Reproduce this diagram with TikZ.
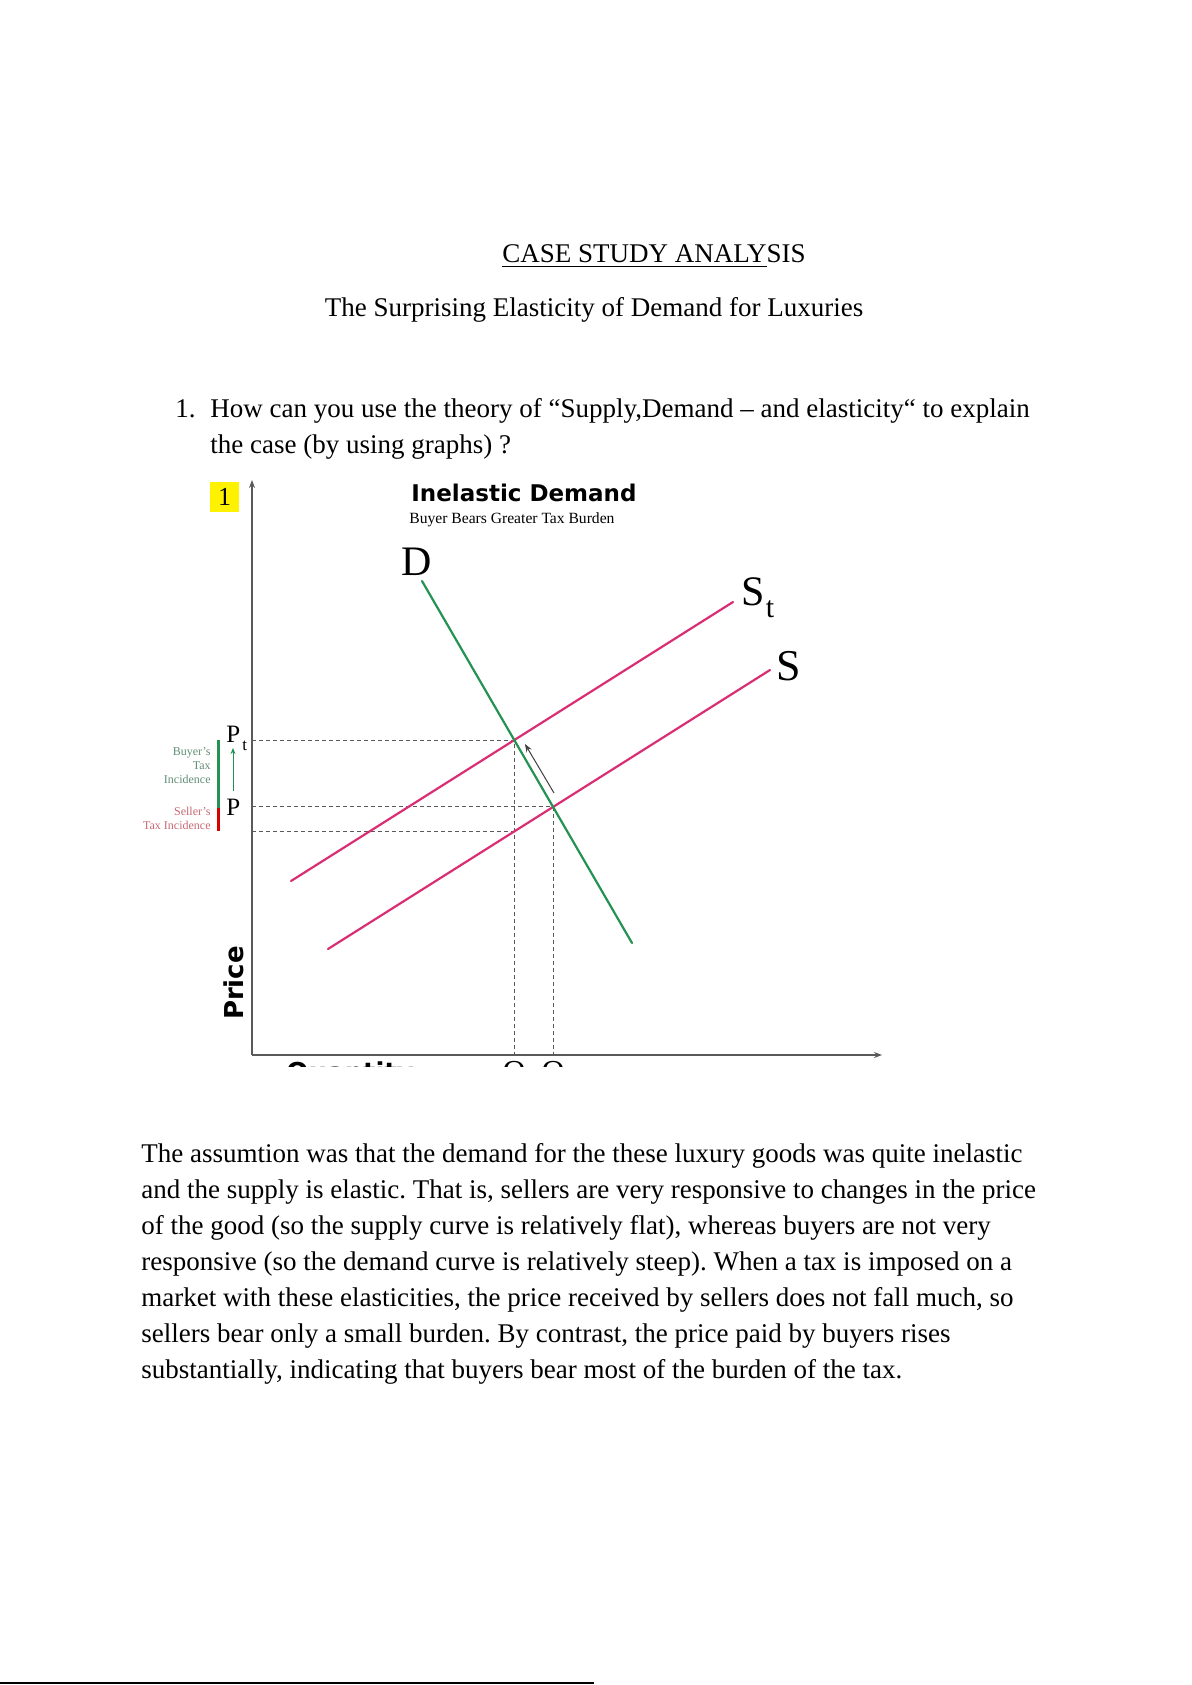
\documentclass[tikz,border=0pt]{standalone}
\usepackage{fontspec}
\setmainfont{Liberation Serif}
\newfontfamily\dejavu{DejaVu Sans}
\usepackage{tikz}
\usepackage{tkz-euclide}
\usetikzlibrary{arrows.meta}
\frenchspacing

\definecolor{hongcung}{RGB}{218,46,116}
\definecolor{xanhcau}{RGB}{36,146,82}
\definecolor{xamtruc}{RGB}{90,90,90}
\definecolor{chubuyer}{RGB}{96,142,116}
\definecolor{chuseller}{RGB}{200,104,116}

\begin{document}
\begin{tikzpicture}[x=0.5pt, y=-0.5pt]
    \useasboundingbox (0,0) rectangle (1191,1685);

    % Styling cho đồ thị cung - cầu
    \tikzset{
        c_supply/.style={color=hongcung, line width=1.1pt, line cap=round},
        c_demand/.style={color=xanhcau, line width=1.1pt, line cap=round},
        c_guide/.style={color=xamtruc, line width=0.5pt, dash pattern=on 2pt off 1.5pt},
        c_axis/.style={color=xamtruc, line width=0.65pt, -{Stealth[length=4pt, width=3pt]}},
        c_text/.style={inner sep=0pt, anchor=base west, font=\fontsize{13.5}{16}\selectfont},
        c_buyer/.style={inner sep=0pt, anchor=base east, text=chubuyer, font=\fontsize{6}{7}\selectfont},
        c_seller/.style={inner sep=0pt, anchor=base east, text=chuseller, font=\fontsize{6}{7}\selectfont},
        c_curve/.style={inner sep=0pt, font=\fontsize{21}{23}\selectfont}
    }

    % Tiêu đề
    \node[c_text] (tieude) at (502,263) {\underline{CASE STUDY ANALY}SIS};
    \node[c_text, anchor=base] (tieude2) at (594,316) {The Surprising Elasticity of Demand for Luxuries};

    % Câu hỏi 1
    \node[c_text] (so1) at (175,417) {1.};
    \node[c_text] (cauhoi1) at (210,417) {How can you use the theory of “Supply,Demand – and elasticity“ to explain};
    \node[c_text] (cauhoi2) at (210,453) {the case (by using graphs) ?};

    % Định nghĩa các điểm của đồ thị
    \tkzDefPoint(252,1055){O}
    \tkzDefPoint(252,480){Y}
    \tkzDefPoint(882,1055){X}
    \tkzDefPoint(422,581){D1}
    \tkzDefPoint(632,943){D2}
    \tkzDefPoint(291,881){T1}
    \tkzDefPoint(733,602){T2}
    \tkzDefPoint(328,949){S1}
    \tkzDefPoint(770,670){S2}

    % Giao điểm cân bằng và hình chiếu lên hai trục
    \coordinate (Et) at (intersection of D1--D2 and T1--T2);
    \coordinate (E) at (intersection of D1--D2 and S1--S2);
    \coordinate (Pt) at (Et -| O);
    \coordinate (P) at (E -| O);
    \coordinate (Qt) at (Et |- O);
    \coordinate (Q) at (E |- O);
    \coordinate (F) at (intersection of Et--Qt and S1--S2);
    \coordinate (Ps) at (F -| O);

    % Đường gióng nét đứt
    \draw[c_guide] (Pt) -- (Et) -- (Qt);
    \draw[c_guide] (P) -- (E) -- (Q);
    \draw[c_guide] (Ps) -- (F);

    % Trục tọa độ
    \draw[c_axis] (O) -- (Y);
    \draw[c_axis] (O) -- (X);

    % Các đường cung và cầu
    \draw[c_supply] (T1) -- (T2);
    \draw[c_supply] (S1) -- (S2);
    \draw[c_demand] (D1) -- (D2);

    % Mũi tên dịch chuyển giá
    \tkzDefPoint(554,793){A1}
    \tkzDefPoint(525,744){A2}
    \draw[color=black!75, line width=0.5pt, -{Stealth[length=4pt, width=3pt]}] (A1) -- (A2);

    % Thanh gánh nặng thuế
    \tkzDefPoint(218,740){B1}
    \tkzDefPoint(218,808){B2}
    \tkzDefPoint(218,831){B3}
    \draw[color=xanhcau, line width=1.5pt] (B1) -- (B2);
    \draw[color=red!85!black, line width=1.5pt] (B2) -- (B3);
    \tkzDefPoint(233,791){G1}
    \tkzDefPoint(233,748){G2}
    \draw[color=xanhcau, line width=0.5pt, -{Stealth[length=3pt, width=2.5pt]}] (G1) -- (G2);

    \foreach \dong/\y in {Buyer’s/755, Tax/769, Incidence/783}
        \node[c_buyer] (b\y) at (211,\y) {\dong};
    \foreach \dong/\y in {Seller’s/815, Tax Incidence/829}
        \node[c_seller] (s\y) at (211,\y) {\dong};

    % Nhãn giá
    \node[c_text, font=\fontsize{12.5}{15}\selectfont] (nhanPt) at (226,742) {P\kern1pt\raisebox{-4pt}{\fontsize{8.5}{10}\selectfont t}};
    \node[c_text, font=\fontsize{12.5}{15}\selectfont] (nhanP) at (226,815) {P};

    % Nhãn đường cong
    \node[c_curve, anchor=base] (nhanD) at (417,575) {D};
    \node[c_curve, anchor=base west] (nhanSt) at (741,605) {S\kern0.5pt\raisebox{-6pt}{\fontsize{15}{17}\selectfont t}};
    \node[c_curve, anchor=base west, font=\fontsize{22}{24}\selectfont] (nhanS) at (776,680) {S};

    % Tiêu đề đồ thị
    \node[c_text, font=\dejavu\bfseries\fontsize{11.5}{13}\selectfont] (dothi) at (411,501) {Inelastic Demand};
    \node[c_text, font=\fontsize{7.8}{9}\selectfont] (phude) at (409,523) {Buyer Bears Greater Tax Burden};
    \node[fill=yellow, inner sep=0pt, minimum width=14.5pt, minimum height=15pt, font=\fontsize{13}{15}\selectfont] (so) at (224.5,497) {1};
    \node[inner sep=0pt, rotate=90, anchor=base, font=\dejavu\bfseries\fontsize{13}{15}\selectfont] (truc1) at (243,983) {Price};

    % Phần bị cắt ở đáy hình
    \coordinate (dayQ) at (0,1082);
    \begin{scope}
        \clip (0,0) rectangle (1191,1066);
        \node[c_text, font=\dejavu\bfseries\fontsize{13}{15}\selectfont] (truc2) at (286,1081) {Quantity};
        \node[c_text, anchor=base, font=\fontsize{16}{18}\selectfont] (nhanQt) at (Qt |- dayQ) {Q};
        \node[c_text, anchor=base, font=\fontsize{16}{18}\selectfont] (nhanQ) at (Q |- dayQ) {Q};
    \end{scope}

    % Đoạn văn giải thích
    \foreach \dong [count=\i from 0] in {
        {The assumtion was that the demand for the these luxury goods was quite inelastic},
        {and the supply is elastic. That is, sellers are very responsive to changes in the price},
        {of the good (so the supply curve is relatively flat), whereas buyers are not very},
        {responsive (so the demand curve is relatively steep). When a tax is imposed on a},
        {market with these elasticities, the price received by sellers does not fall much, so},
        {sellers bear only a small burden. By contrast, the price paid by buyers rises},
        {substantially, indicating that buyers bear most of the burden of the tax.}}
        \node[c_text] (dong\i) at (141,1162+36*\i) {\dong};

    % Đường chú thích cuối trang
    \draw[line width=1pt] (0,1683) -- (594,1683);
\end{tikzpicture}
\end{document}
